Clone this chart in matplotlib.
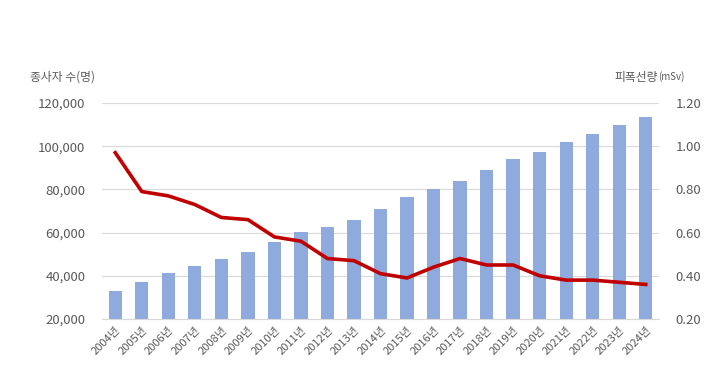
import matplotlib
matplotlib.use("Agg")
import matplotlib.pyplot as plt
from matplotlib.ticker import FuncFormatter

plt.rcParams['font.family'] = ['Noto Sans CJK KR', 'DejaVu Sans']

years = [f"{y}년" for y in range(2004, 2025)]
workers = [33000, 37100, 41200, 44500, 47800, 50900, 55500, 60400, 62800, 65800,
           71000, 76500, 80000, 84000, 88800, 94000, 97400, 101800, 105800, 109800, 113400]
dose = [0.97, 0.79, 0.77, 0.73, 0.67, 0.66, 0.58, 0.56, 0.48, 0.47,
        0.41, 0.39, 0.44, 0.48, 0.45, 0.45, 0.40, 0.38, 0.38, 0.37, 0.36]

fig = plt.figure(figsize=(7.19, 3.77), dpi=100)
ax = fig.add_axes([102/719, 58/377, (659-102)/719, (319-103)/377])
ax2 = ax.twinx()

x = list(range(len(years)))
ax.bar(x, workers, width=0.5, color='#8FAADC', zorder=2)
ax.set_ylim(20000, 120000)
ax.set_yticks(range(20000, 120001, 20000))
ax.yaxis.set_major_formatter(FuncFormatter(lambda v, p: f"{int(v):,}"))
ax.set_xlim(-0.5, len(years) - 0.5)
ax.set_xticks(x)
ax.set_xticklabels(years, rotation=45, ha='right', rotation_mode='anchor', fontsize=8, color='#595959')
ax.grid(axis='y', color='#D9D9D9', linewidth=0.8, zorder=0)
ax.set_axisbelow(True)

ax2.plot(x, dose, color='#C00000', linewidth=2.6, zorder=3)
ax2.set_ylim(0.2, 1.2)
ax2.set_yticks([0.2, 0.4, 0.6, 0.8, 1.0, 1.2])
ax2.yaxis.set_major_formatter(FuncFormatter(lambda v, p: f"{v:.2f}"))

for a in (ax, ax2):
    for s in a.spines.values():
        s.set_visible(False)
    a.tick_params(length=0, labelsize=9.5, colors='#595959')
ax.spines['bottom'].set_visible(True)
ax.spines['bottom'].set_color('#D9D9D9')
ax.tick_params(axis='x', labelsize=8, pad=4)
ax.tick_params(axis='y', pad=12)
ax2.tick_params(axis='y', pad=12)

fig.text(30/719, 1 - 77/377, "종사자 수(명)", fontsize=8.5, color='#595959', va='center', ha='left')
fig.text(658/719, 1 - 77/377, "피폭선량", fontsize=8.5, color='#595959', va='center', ha='right')
fig.text(658/719, 1 - 77/377, "(mSv)", fontsize=7, color='#595959', va='center', ha='left')

fig.savefig("out.png", dpi=100)
